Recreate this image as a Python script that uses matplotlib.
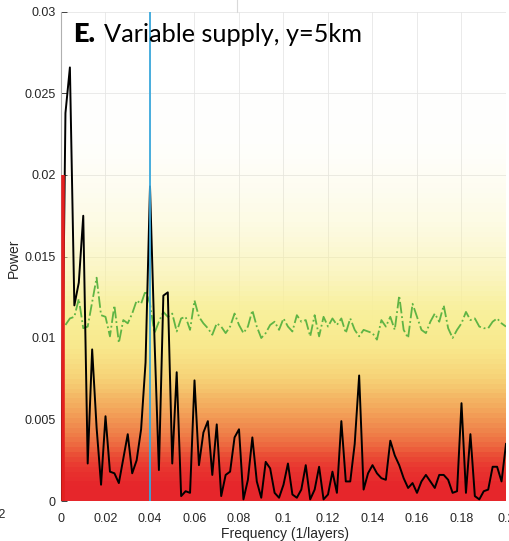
import numpy as np
import matplotlib
matplotlib.use('Agg')
import matplotlib.pyplot as plt
from matplotlib.colors import LinearSegmentedColormap, to_rgba
from matplotlib.lines import Line2D

# ---------------- data ----------------
freq_step = 0.002
n_freq = 101
frequency = np.arange(n_freq) * freq_step  # 0 .. 0.2 (1/layers)

power = [
    0.0000, 0.0238, 0.0266, 0.0120, 0.0134, 0.0175, 0.0023, 0.0093, 0.0045, 0.0010,
    0.0052, 0.0018, 0.0017, 0.0011, 0.0026, 0.0041, 0.0017, 0.0025, 0.0044, 0.0085,
    0.0193, 0.0100, 0.0019, 0.0126, 0.0128, 0.0023, 0.0079, 0.0003, 0.0006, 0.0005,
    0.0074, 0.0022, 0.0042, 0.0049, 0.0016, 0.0047, 0.0003, 0.0016, 0.0018, 0.0039,
    0.0044, 0.0001, 0.0013, 0.0039, 0.0012, 0.0002, 0.0024, 0.0020, 0.0005, 0.0002,
    0.0010, 0.0023, 0.0004, 0.0002, 0.0007, 0.0022, 0.0001, 0.0007, 0.0021, 0.0001,
    0.0004, 0.0018, 0.0005, 0.0049, 0.0012, 0.0012, 0.0035, 0.0077, 0.0007, 0.0017,
    0.0022, 0.0017, 0.0014, 0.0013, 0.0037, 0.0028, 0.0022, 0.0014, 0.0008, 0.0011,
    0.0005, 0.0012, 0.0016, 0.0012, 0.0008, 0.0016, 0.0016, 0.0013, 0.0005, 0.0006,
    0.0060, 0.0005, 0.0041, 0.0003, 0.0001, 0.0006, 0.0007, 0.0021, 0.0021, 0.0012,
    0.0035,
]

percentile95 = [
    np.nan, 0.0108, 0.0112, 0.0113, 0.0124, 0.0106, 0.0107, 0.0122, 0.0137, 0.0114,
    0.0113, 0.0101, 0.0120, 0.0097, 0.0111, 0.0109, 0.0115, 0.0123, 0.0121, 0.0129,
    0.0121, 0.0103, 0.0110, 0.0116, 0.0113, 0.0115, 0.0104, 0.0112, 0.0113, 0.0105,
    0.0123, 0.0113, 0.0109, 0.0106, 0.0102, 0.0109, 0.0107, 0.0103, 0.0107, 0.0115,
    0.0108, 0.0103, 0.0107, 0.0117, 0.0107, 0.0100, 0.0103, 0.0108, 0.0110, 0.0105,
    0.0112, 0.0107, 0.0104, 0.0114, 0.0110, 0.0111, 0.0101, 0.0114, 0.0101, 0.0113,
    0.0107, 0.0112, 0.0108, 0.0112, 0.0103, 0.0112, 0.0105, 0.0101, 0.0105, 0.0104,
    0.0103, 0.0099, 0.0111, 0.0107, 0.0113, 0.0105, 0.0126, 0.0105, 0.0100, 0.0121,
    0.0113, 0.0105, 0.0103, 0.0110, 0.0115, 0.0110, 0.0120, 0.0106, 0.0100, 0.0105,
    0.0109, 0.0116, 0.0111, 0.0112, 0.0107, 0.0106, 0.0106, 0.0110, 0.0112, 0.0109,
    0.0107,
]

# relative density of simulated spectra per power bin (bottom -> top)
density_bin = 0.0003
row_density = [
    1.00, 1.00, 1.00, 0.99, 0.96, 0.94, 0.91, 0.88, 0.85, 0.82,
    0.78, 0.75, 0.73, 0.71, 0.69, 0.67, 0.65, 0.63, 0.61, 0.59,
    0.575, 0.56, 0.54, 0.525, 0.51, 0.49, 0.475, 0.46, 0.44, 0.425,
    0.41, 0.39, 0.375, 0.36, 0.345, 0.33, 0.315, 0.30, 0.29, 0.28,
    0.27, 0.255, 0.24, 0.225, 0.21, 0.195, 0.18, 0.17, 0.16, 0.15,
    0.14, 0.13, 0.12, 0.11, 0.10, 0.092, 0.085, 0.078, 0.071, 0.065,
    0.06, 0.055, 0.05, 0.045, 0.04, 0.036, 0.032, 0.028, 0.024, 0.02,
    0.017, 0.015, 0.013, 0.011, 0.01, 0.009, 0.008, 0.007, 0.006, 0.006,
    0.005, 0.005, 0.004, 0.004, 0.003, 0.003, 0.003, 0.002, 0.002, 0.002,
]

peak_freq = 0.04
supply_level = 0.02

x_ticks = [0, 0.02, 0.04, 0.06, 0.08, 0.1, 0.12, 0.14, 0.16, 0.18, 0.2]
x_ticklabels = ['0', '0.02', '0.04', '0.06', '0.08', '0.1', '0.12', '0.14', '0.16', '0.18', '0.2']
y_ticks = [0, 0.005, 0.01, 0.015, 0.02, 0.025, 0.03]
y_ticklabels = ['0', '0.005', '0.01', '0.015', '0.02', '0.025', '0.03']

# ---------------- figure ----------------
W, H = 510, 541
fig = plt.figure(figsize=(W / 100, H / 100), dpi=100)
ax = fig.add_axes([61 / W, 40 / H, 445 / W, 489 / H])

tick_font = dict(family=['Liberation Sans', 'DejaVu Sans'], size=9)

yellow = to_rgba('#f8ef98')
cmap = LinearSegmentedColormap.from_list('spec', [
    (0.00, (yellow[0], yellow[1], yellow[2], 0.0)),
    (0.30, yellow),
    (0.40, to_rgba('#f8e78b')),
    (0.50, to_rgba('#f6d176')),
    (0.60, to_rgba('#f3a95c')),
    (0.70, to_rgba('#ef8049')),
    (0.80, to_rgba('#eb5538')),
    (0.90, to_rgba('#e8362f')),
    (1.00, to_rgba('#e6262b')),
])

x_edges = np.arange(n_freq + 1) * freq_step - freq_step / 2
y_edges = np.arange(len(row_density) + 1) * density_bin
Z = np.tile(np.array(row_density)[:, None], (1, n_freq))
ax.pcolormesh(x_edges, y_edges, Z, cmap=cmap, vmin=0, vmax=1, shading='flat', zorder=1)

ax.plot(frequency, percentile95, color='#5fb444', lw=1.3, ls='-.', zorder=3)
ax.plot(frequency, power, color='black', lw=1.4, zorder=4)
ax.axvline(peak_freq, color='#3aa8dc', lw=1.3, zorder=5)
ax.plot([0.0007, 0.0007], [0, supply_level], color='#e3201f', lw=2.6,
        solid_capstyle='butt', zorder=5)

ax.set_xlim(0, 0.2)
ax.set_ylim(0, 0.03)
ax.set_xticks(x_ticks)
ax.set_xticklabels(x_ticklabels, **tick_font, color='#262626')
ax.set_yticks(y_ticks)
ax.set_yticklabels(y_ticklabels, **tick_font, color='#262626')
ax.tick_params(axis='y', direction='in', length=4, width=0.7, color='#404040', pad=4)
ax.tick_params(axis='x', direction='in', length=0, pad=9)
ax.set_axisbelow(True)
ax.grid(True, color='#e6e6e6', lw=0.6, zorder=0)
for s in ['top', 'right', 'bottom']:
    ax.spines[s].set_visible(False)
ax.spines['left'].set_color('#b0b0b0')
ax.spines['left'].set_linewidth(0.8)

fig.text(285 / W, 1 - 538 / H, 'Frequency (1/layers)', ha='center', va='baseline',
         family=['Liberation Sans', 'DejaVu Sans'], size=10, color='#262626')
fig.text(14 / W, 1 - 258 / H, 'Power', ha='center', va='center', rotation=90,
         family=['Liberation Sans', 'DejaVu Sans'], size=10, color='#262626')

title_font = ['Lato', 'DejaVu Sans']
fig.text(73 / W, 1 - 42 / H, 'E.', ha='left', va='baseline', family=title_font,
         weight='heavy', size=19.5, color='black')
fig.text(104 / W, 1 - 42 / H, 'Variable supply, y=5km', ha='left', va='baseline',
         family=title_font, size=18.2, color='black')

# fragments of neighbouring panels at the edges of the crop
fig.text(6 / W, 1 - 518 / H, '0.2', ha='right', va='baseline',
         family=['Liberation Sans', 'DejaVu Sans'], size=9, color='#262626')
fig.add_artist(Line2D([237 / W, 237 / W], [1 - 12 / H, 1.0], color='#d9d9d9', lw=0.8))

fig.savefig('out.png', dpi=100)
